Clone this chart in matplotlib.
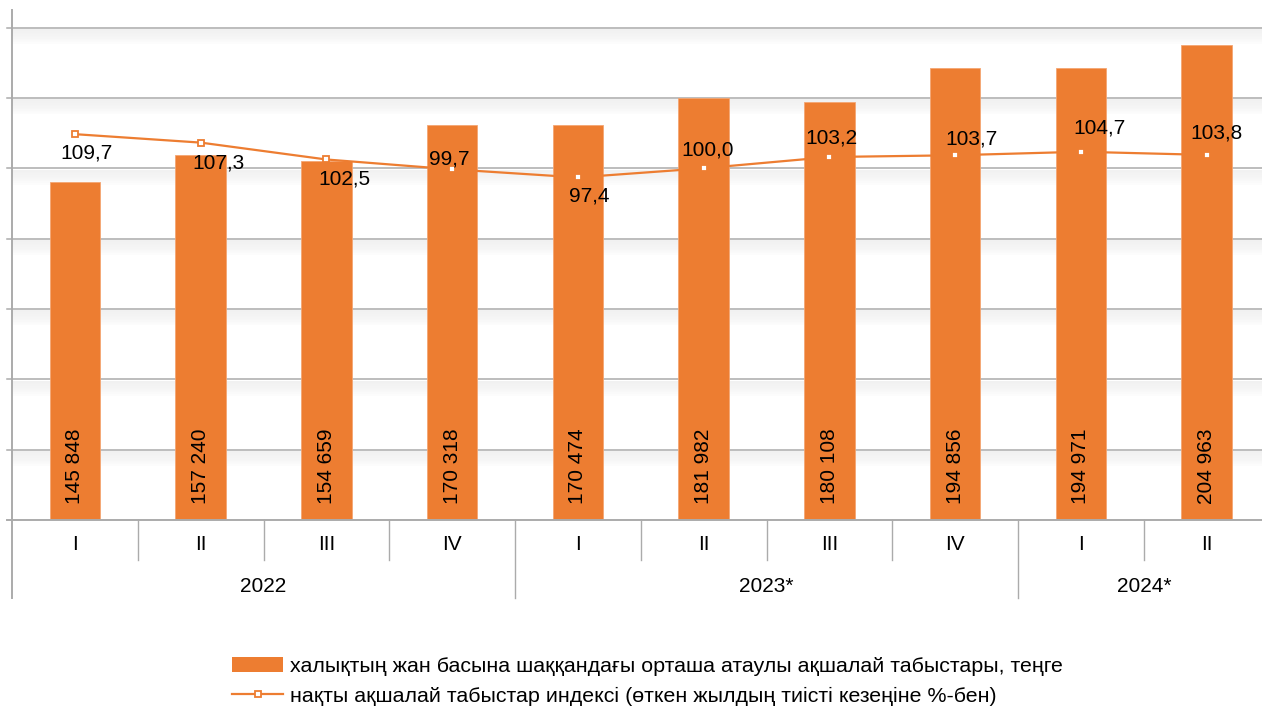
import matplotlib
matplotlib.use("Agg")
import matplotlib.pyplot as plt
from matplotlib.transforms import blended_transform_factory, ScaledTranslation
from matplotlib.patches import Patch
from matplotlib.lines import Line2D

plt.rcParams['font.family'] = ['Liberation Sans', 'DejaVu Sans']

# ---- data ----
quarters = ["I", "II", "III", "IV", "I", "II", "III", "IV", "I", "II"]
years = ["2022", "2023*", "2024*"]
year_counts = [4, 4, 2]
income = [145848, 157240, 154659, 170318, 170474, 181982, 180108, 194856, 194971, 204963]
income_labels = ["145 848", "157 240", "154 659", "170 318", "170 474",
                 "181 982", "180 108", "194 856", "194 971", "204 963"]
index_vals = [109.7, 107.3, 102.5, 99.7, 97.4, 100.0, 103.2, 103.7, 104.7, 103.8]
index_labels = ["109,7", "107,3", "102,5", "99,7", "97,4", "100,0", "103,2", "103,7", "104,7", "103,8"]
legend_bar = "халықтың жан басына шаққандағы орташа атаулы ақшалай табыстары, теңге"
legend_line = "нақты ақшалай табыстар индексі (өткен жылдың тиісті кезеңіне %-бен)"

# label offsets in pixels (dx right, dy down) for line labels
lbl_off = [(12, 19), (18, 20), (18, 20), (-3, -10), (11, 19), (4, -18), (2, -19), (16, -16), (19, -24), (10, -22)]

ORANGE = "#ED7D31"
GRID = "#ABABAB"
FS = 15
W, H = 1262, 706
DPI = 100
fig = plt.figure(figsize=(W / DPI, H / DPI), dpi=DPI)
ax_left, ax_right, ax_top, ax_bot = 12, 12 + 1257.5, 10, 520
ax = fig.add_axes([ax_left / W, 1 - ax_bot / H, (ax_right - ax_left) / W, (ax_bot - ax_top) / H])
ax2 = ax.twinx()

x = list(range(len(quarters)))
ax.set_xlim(-0.5, len(quarters) - 0.5)
ax.set_ylim(0, 220000)
ax2.set_ylim(0, 145)

for a in (ax, ax2):
    for s in a.spines.values():
        s.set_visible(False)
    a.set_yticks([])
    a.set_xticks([])
ax.patch.set_visible(False)
ax2.patch.set_visible(False)

axw_px = ax_right - ax_left
axh_px = ax_bot - ax_top

# gridlines (from secondary scale) with soft shadow, drawn behind bars
tr = blended_transform_factory(ax.transAxes, ax2.transData)
grid_vals = [20, 40, 60, 80, 100, 120, 140]
shadow_cols = ["#f1f1f1", "#f2f2f2", "#f3f3f3", "#f4f4f4", "#f5f5f5", "#f6f6f6", "#f8f8f8", "#fafafa", "#fcfcfc"]
for g in grid_vals:
    for k, c in enumerate(shadow_cols):
        off = ScaledTranslation(0, -(2.5 + k * 1.6) / DPI, fig.dpi_scale_trans)
        ax.plot([0, 1], [g, g], transform=tr + off, color=c, lw=1.4, zorder=0.5, solid_capstyle='butt')
    ax.plot([-5 / axw_px, 1], [g, g], transform=tr, color=GRID, lw=1.1, zorder=1, clip_on=False)

# bars
bars = ax.bar(x, income, width=0.4, color=ORANGE, edgecolor="#F4A673", linewidth=0.6, zorder=2)
for xi, lab in zip(x, income_labels):
    ax.annotate(lab, xy=(xi, 0), xytext=(0, 54 * 0.72), textcoords="offset points",
                rotation=90, ha="center", va="center", fontsize=FS, color="black", zorder=4)

# line
ax2.plot(x, index_vals, color=ORANGE, lw=1.6, marker="s", markersize=4.8,
         markerfacecolor="white", markeredgecolor=ORANGE, markeredgewidth=1.3, zorder=3)
for xi, v, lab, (dx, dy) in zip(x, index_vals, index_labels, lbl_off):
    ax2.annotate(lab, xy=(xi, v), xytext=(dx * 0.72, -dy * 0.72), textcoords="offset points",
                 ha="center", va="center", fontsize=FS, color="black", zorder=5)

# axis lines
ax.plot([-5 / axw_px, 1], [0, 0], transform=ax.transAxes, color=GRID, lw=1.4, clip_on=False, zorder=3)
ax.plot([0, 0], [1, -78 / axh_px], transform=ax.transAxes, color=GRID, lw=1.4, clip_on=False, zorder=3)

# category axis (multi-level)
trx = blended_transform_factory(ax.transData, ax.transAxes)
bounds = []
pos = 0
for n in year_counts:
    bounds.append((pos, pos + n))
    pos += n
year_edges = {b[1] for b in bounds}
for i in range(1, len(quarters)):
    edge = i - 0.5
    depth = 78 if i in year_edges else 40
    ax.plot([edge, edge], [0, -depth / axh_px], transform=trx, color=GRID, lw=1.0, clip_on=False)
for xi, q in zip(x, quarters):
    ax.text(xi, -25 / axh_px, q, transform=trx, ha="center", va="center", fontsize=FS)
for (s, e), yr in zip(bounds, years):
    ax.text((s + e - 1) / 2, -66 / axh_px, yr, transform=trx, ha="center", va="center", fontsize=FS)

# legend
handles = [Patch(facecolor=ORANGE, edgecolor="none"),
           Line2D([0], [0], color=ORANGE, lw=1.6, marker="s", markersize=4.8,
                  markerfacecolor="white", markeredgecolor=ORANGE, markeredgewidth=1.3)]
fig.legend(handles, [legend_bar, legend_line], loc="upper left",
           bbox_to_anchor=(232 / W, 1 - 657 / H), frameon=False, fontsize=15.4,
           handlelength=2.4, handletextpad=0.33, labelspacing=0.5, borderpad=0, borderaxespad=0)

fig.savefig("out.png", dpi=DPI)
